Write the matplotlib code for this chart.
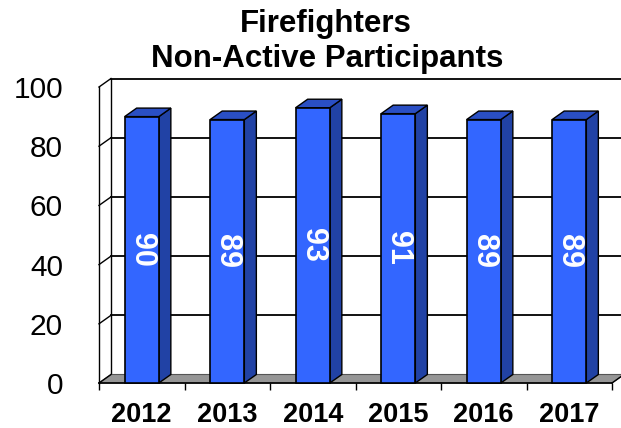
import matplotlib.pyplot as plt
from matplotlib.patches import Polygon

plt.rcParams['font.family'] = ['Liberation Sans', 'DejaVu Sans']

years = ['2012', '2013', '2014', '2015', '2016', '2017']
values = [90, 89, 93, 91, 89, 89]
yticks = [0, 20, 40, 60, 80, 100]

W, H = 621, 428
fig = plt.figure(figsize=(W / 100, H / 100), dpi=100)
# front plane of the 3d box in pixels
left, right, bottom, top = 99, 612, 383, 87
ax = fig.add_axes([left / W, 1 - bottom / H, (right - left) / W, (bottom - top) / H])

n = len(years)
ax.set_xlim(-0.5, n - 0.5)
ax.set_ylim(0, 100)
for s in ax.spines.values():
    s.set_visible(False)

# depth of the fake 3d, pixels -> data units
ddx = 12 / ((right - left) / n)
ddy = 8.5 / ((bottom - top) / 100)
x0, x1 = -0.5, n - 0.5

# floor
ax.add_patch(Polygon([(x0, 0), (x1, 0), (x1 + ddx, ddy), (x0 + ddx, ddy)],
                     closed=True, facecolor='#969696', edgecolor='#555555',
                     lw=0.8, clip_on=False, zorder=1))
# back wall gridlines + left wall lines
for v in yticks:
    if v > 0:
        ax.plot([x0 + ddx, x1 + ddx + 0.2], [v + ddy, v + ddy], color='black',
                lw=1.3, clip_on=False, zorder=0.5)
    ax.plot([x0, x0 + ddx], [v, v + ddy], color='black', lw=1.0,
            clip_on=False, zorder=2)
ax.plot([x0, x0], [0, 100], color='black', lw=1.0, clip_on=False, zorder=2)
ax.plot([x0 + ddx, x0 + ddx], [ddy, 100 + ddy], color='black', lw=1.0,
        clip_on=False, zorder=0.6)
ax.plot([x0, x1], [0, 0], color='black', lw=1.2, clip_on=False, zorder=2)
ax.plot([x1, x1 + ddx], [0, ddy], color='black', lw=1.0, clip_on=False, zorder=2)

# bars
bw = 0.4
xs = list(range(n))
for x, v in zip(xs, values):
    xr = x + bw / 2
    xl = x - bw / 2
    ax.add_patch(Polygon([(xr, 0), (xr + ddx, ddy), (xr + ddx, v + ddy), (xr, v)],
                         closed=True, facecolor='#2142a5', edgecolor='black',
                         lw=1.0, clip_on=False, zorder=3))
    ax.add_patch(Polygon([(xl, v), (xr, v), (xr + ddx, v + ddy), (xl + ddx, v + ddy)],
                         closed=True, facecolor='#2a4fc4', edgecolor='black',
                         lw=1.0, clip_on=False, zorder=3))
ax.bar(xs, values, width=bw, color='#3366ff', edgecolor='black', lw=1.2,
       zorder=4, clip_on=False)
for x, v in zip(xs, values):
    ax.text(x, v / 2, str(v), rotation=-90, ha='center', va='center',
            color='white', fontsize=22, fontweight='bold', zorder=5)

# axes ticks and labels
ax.set_yticks(yticks)
ax.set_yticklabels([str(t) for t in yticks], fontsize=21.5)
ax.tick_params(axis='y', length=0, pad=26)
ax.set_xticks(xs)
ax.set_xticklabels(years, fontsize=19.5, fontweight='bold')
ax.tick_params(axis='x', which='major', length=0, pad=14)
ax.set_xticks([i - 0.5 for i in range(n + 1)], minor=True)
ax.tick_params(axis='x', which='minor', length=5, width=1, color='black',
               direction='out')

fig.text(326 / W, 1 - 32 / H, 'Firefighters', ha='center', va='baseline',
         fontsize=22.5, fontweight='bold')
fig.text(327 / W, 1 - 67 / H, 'Non-Active Participants', ha='center',
         va='baseline', fontsize=22.5, fontweight='bold')

fig.savefig('out.png', dpi=100)
